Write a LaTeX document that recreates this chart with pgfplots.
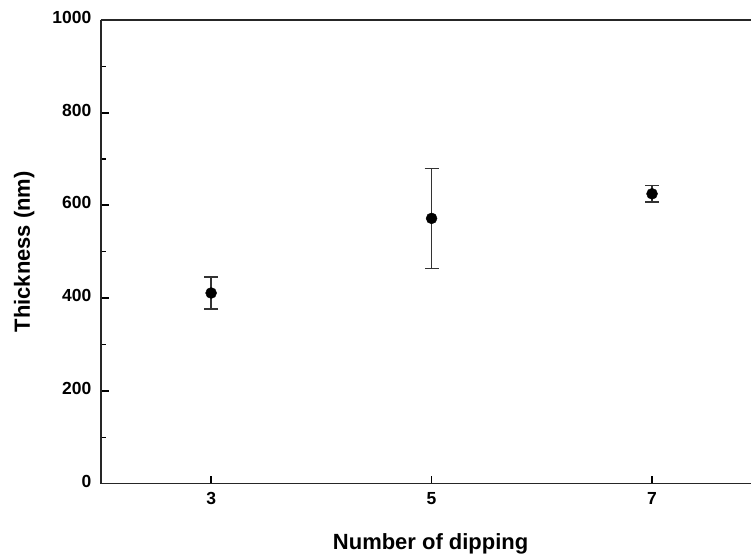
\documentclass[border=0pt]{standalone}
\usepackage{pgfplots}
\pgfplotsset{compat=1.18}
\usepackage{fontspec}
\setmainfont{Liberation Sans}
\begin{document}
\begin{tikzpicture}
\begin{axis}[
  scale only axis, width=651pt, height=464pt,
  xmin=2, xmax=7.9, ymin=0, ymax=1000,
  axis x line*=box, axis y line*=left,
  axis line style={-, line width=1.5pt, black!85},
  x axis line style={-}, y axis line style={-},
  xtick={3,5,7}, ytick={0,200,400,600,800,1000},
  minor ytick={100,300,500,700,900},
  xtick pos=bottom, ytick pos=left,
  tick align=inside,
  major tick length=8pt, minor tick length=5pt,
  tick style={line width=1.8pt, black},
  minor tick style={line width=1.2pt, black},
  /pgf/number format/assume math mode=true,
  /pgf/number format/1000 sep={},
  typeset ticklabels with strut,
  ticklabel style={font=\bfseries\fontsize{17.5}{17.5}\selectfont},
  yticklabel style={xshift=-6pt},
  xticklabel style={yshift=-5pt},
  xlabel={Number of dipping},
  ylabel={Thickness (nm)},
  label style={font=\bfseries\fontsize{22}{22}\selectfont},
  xlabel style={at={(axis description cs:0.507,0)}, anchor=base, yshift=-66pt},
  ylabel style={at={(axis description cs:-0.118,0.5)}, anchor=center},
]
\addplot[only marks, mark=*, mark size=5.5pt, black,
  error bars/.cd, y dir=both, y explicit,
  error bar style={line width=1.5pt, black!80},
  error mark=|,
  error mark options={line width=1.5pt, black!80, mark size=7pt}]
  coordinates {
    (3,411) +- (0,35)
    (5,572) +- (0,108)
    (7,625) +- (0,18)
  };
\coordinate (SW) at (rel axis cs:0,0);
\coordinate (NE) at (rel axis cs:1,1);
\end{axis}
\path ([shift={(-101pt,-71pt)}]SW) rectangle ([yshift=20pt]NE);
\end{tikzpicture}
\end{document}
